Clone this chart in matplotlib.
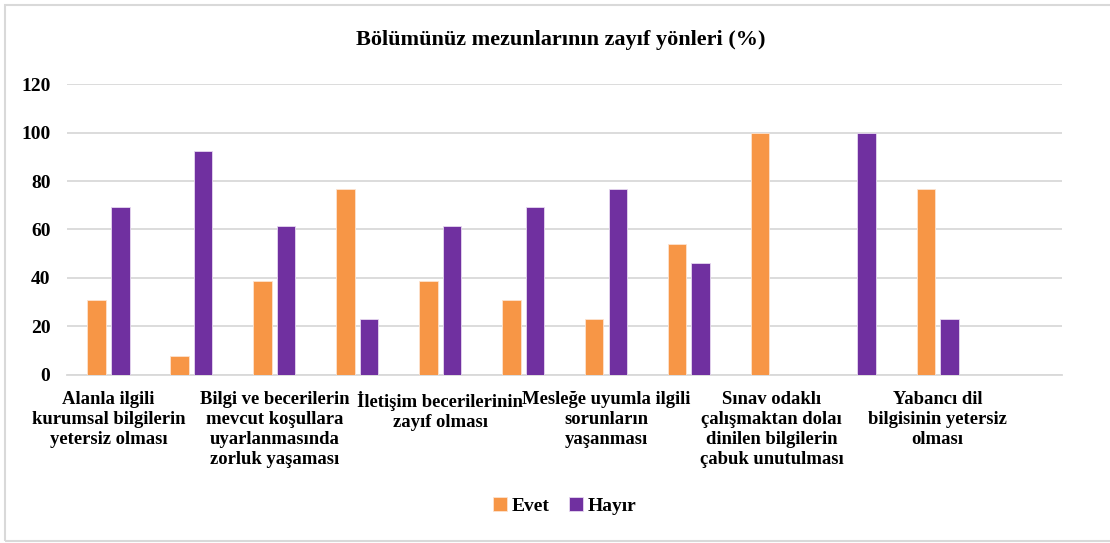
import matplotlib.pyplot as plt
import numpy as np
from matplotlib.patches import Rectangle

# Percentages per item (the last category slot is left empty)
evet = [30.8, 7.7, 38.5, 76.9, 38.5, 30.8, 23.1, 53.8, 100.0, 0.0, 76.9, 0.0]
hayir = [69.2, 92.3, 61.5, 23.1, 61.5, 69.2, 76.9, 46.2, 0.0, 100.0, 23.1, 0.0]

# Only every other category gets a visible label
labels = [
    'Alanla ilgili\nkurumsal bilgilerin\nyetersiz olması',
    'Bilgi ve becerilerin\nmevcut koşullara\nuyarlanmasında\nzorluk yaşaması',
    'İletişim becerilerinin\nzayıf olması',
    'Mesleğe uyumla ilgili\nsorunların\nyaşanması',
    'Sınav odaklı\nçalışmaktan dolaı\ndinilen bilgilerin\nçabuk unutulması',
    'Yabancı dil\nbilgisinin yetersiz\nolması',
]
yticks = [0, 20, 40, 60, 80, 100, 120]

ORANGE = '#F79646'
PURPLE = '#7030A0'
GRID = '#D9D9D9'

plt.rcParams['font.family'] = ['Liberation Serif', 'DejaVu Serif']
plt.rcParams['font.weight'] = 'bold'

fig = plt.figure(figsize=(11.1, 5.43), dpi=100)
ax = fig.add_axes([0.0604, 0.31, 0.8964, 0.535])

x = np.arange(len(evet))
w = 0.223
off = 0.142
ax.bar(x - off, evet, w, color=ORANGE, edgecolor='#FDE3CF', linewidth=0.6,
       label='Evet', zorder=3)
ax.bar(x + off, hayir, w, color=PURPLE, edgecolor='#E6D8F0', linewidth=0.6,
       label='Hayır', zorder=3)

ax.set_xlim(-0.5, len(evet) - 0.5)
ax.set_ylim(0, 120)
ax.set_yticks(yticks)
ax.set_yticklabels([str(t) for t in yticks], fontsize=14, fontweight='bold')
ax.yaxis.grid(True, color=GRID, linewidth=1.3, zorder=0)
ax.tick_params(axis='y', length=0, pad=12)

ax.set_xticks(x[::2])
ax.set_xticklabels(labels, fontsize=13.4, fontweight='bold',
                   linespacing=1.22, va='top')
ax.tick_params(axis='x', length=0, pad=12)

for s in ['top', 'right', 'left']:
    ax.spines[s].set_visible(False)
ax.spines['bottom'].set_color(GRID)
ax.spines['bottom'].set_linewidth(1.3)

fig.text(0.505, 0.926, 'Bölümünüz mezunlarının zayıf yönleri (%)',
         ha='center', va='center', fontsize=16, fontweight='bold')

fig.legend(loc='center', bbox_to_anchor=(565 / 1110, 1 - 506 / 543), ncol=2,
           frameon=False, fontsize=14, handlelength=0.7, handleheight=0.7,
           handletextpad=0.25, columnspacing=1.0)

# Light frame around the chart
fig.patches.append(Rectangle((5 / 1110, 2 / 543), 1.1, 536 / 543,
                             transform=fig.transFigure, fill=False,
                             edgecolor='#D9D9D9', linewidth=1.5))

fig.savefig('out.png', dpi=100)
